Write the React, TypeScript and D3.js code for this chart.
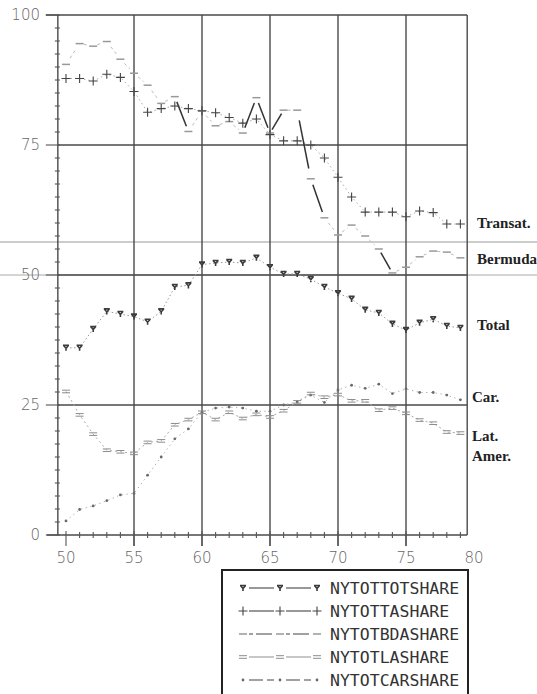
import React, { useEffect, useRef } from 'react';
import * as d3 from 'd3';

// years 1950-1979, share of NY traffic (%)
const years = [50, 51, 52, 53, 54, 55, 56, 57, 58, 59, 60, 61, 62, 63, 64, 65, 66, 67, 68, 69, 70, 71, 72, 73, 74, 75, 76, 77, 78, 79];
const totalShare = [36, 36, 39.6, 43, 42.5, 42, 41, 43, 47.7, 48, 52, 52.3, 52.5, 52.3, 53.3, 51.5, 50.2, 50.2, 49.2, 47.7, 46.5, 45.4, 43.3, 42.7, 40.6, 39.4, 40.8, 41.5, 40.2, 39.8];
const transatShare = [87.8, 87.8, 87.3, 88.6, 88, 85.3, 81.3, 82, 82.5, 82, 81.6, 81.2, 80.3, 79.2, 80, 77, 75.8, 75.8, 75, 72.5, 68.8, 65, 62.1, 62.1, 62.1, 61.2, 62.3, 62, 59.8, 59.8];
const bermudaShare = [90.5, 94.5, 94, 94.9, 91.5, 88.8, 86.5, 83, 84.3, 77.6, 81.5, 78.7, 79.5, 77.3, 84.1, 77.3, 81.7, 81.7, 68.5, 61, 57.7, 59.6, 57.5, 55, 50.4, 51.5, 53.5, 54.6, 54.4, 53.3];
const latAmShare = [27.6, 23.1, 19.4, 16.3, 16, 15.7, 17.8, 18.1, 21.2, 22.2, 23.6, 22.2, 23.6, 22.4, 23.2, 22.7, 23.9, 25.6, 27.2, 26.5, 27, 25.8, 25.8, 24, 24.4, 23.4, 22.1, 21.5, 19.8, 19.6];
const caribShare = [2.7, 4.9, 5.6, 6.6, 7.7, 8, 11.5, 15, 18.5, 20.4, 23.6, 24.4, 24.6, 24.4, 23.8, 23.8, 25, 25.6, 26.9, 25.5, 27.9, 28.8, 28.2, 29, 27.2, 28.1, 27.4, 27.4, 26.9, 26];

const xTicks = [50, 55, 60, 65, 70, 75, 80];
const yTicks = [0, 25, 50, 75, 100];
const legendNames = ['NYTOTTOTSHARE', 'NYTOTTASHARE', 'NYTOTBDASHARE', 'NYTOTLASHARE', 'NYTOTCARSHARE'];
const legendMarks = ['y', 'plus', 'dash', 'eq', 'dot'];
const sideLabels = [
  { text: 'Transat.', v: 60 },
  { text: 'Bermuda', v: 53.2 },
  { text: 'Total', v: 40.4 },
  { text: 'Car.', v: 26.5 },
  { text: 'Lat.', v: 19 },
  { text: 'Amer.', v: 15.3 },
];

const W = 537;
const H = 694;

function marker(g: any, kind: string, cx: number, cy: number) {
  if (kind === 'y') {
    g.append('path')
      .attr('d', `M${cx - 3},${cy - 2.5} L${cx + 3},${cy - 2.5} M${cx - 2.6},${cy - 2.5} L${cx},${cy + 0.5} L${cx + 2.6},${cy - 2.5} M${cx},${cy + 0.5} L${cx},${cy + 3}`)
      .attr('stroke', '#3c3c3c').attr('stroke-width', 1.6).attr('fill', 'none');
  } else if (kind === 'plus') {
    g.append('path')
      .attr('d', `M${cx - 4.5},${cy} L${cx + 4.5},${cy} M${cx},${cy - 4.5} L${cx},${cy + 4.5}`)
      .attr('stroke', '#444').attr('stroke-width', 1.1);
  } else if (kind === 'dash') {
    g.append('path')
      .attr('d', `M${cx - 4},${cy} L${cx + 4},${cy}`)
      .attr('stroke', '#999').attr('stroke-width', 1.5);
  } else if (kind === 'eq') {
    g.append('path')
      .attr('d', `M${cx - 4},${cy - 1.3} L${cx + 4},${cy - 1.3} M${cx - 4},${cy + 1.3} L${cx + 4},${cy + 1.3}`)
      .attr('stroke', '#8c8c8c').attr('stroke-width', 1);
  } else {
    g.append('circle').attr('cx', cx).attr('cy', cy).attr('r', 1.4).attr('fill', '#6a6a6a');
  }
}

const ShareChart = () => {
  const domref = useRef<HTMLDivElement>(null);

  useEffect(() => {
    d3.select(domref.current).selectAll('svg').remove();

    const x = d3.scaleLinear().domain([50, 80]).range([66, 474]);
    const y = d3.scaleLinear().domain([0, 100]).range([535, 15]);
    const left = x(49.4);
    const right = x(79.5);

    const svg = d3.select(domref.current)
      .append('svg')
      .attr('width', W)
      .attr('height', H)
      .style('position', 'absolute')
      .style('left', '0px')
      .style('top', '0px')
      .style('background', '#fff');

    // scan artefacts: long horizontal lines across the page
    svg.append('line').attr('x1', 0).attr('x2', W).attr('y1', 242).attr('y2', 242)
      .attr('stroke', '#999').attr('stroke-width', 1.2);
    svg.append('line').attr('x1', 0).attr('x2', W).attr('y1', y(50)).attr('y2', y(50))
      .attr('stroke', '#aaa').attr('stroke-width', 1.2);

    const grid = svg.append('g').attr('stroke', '#4a4a4a').attr('stroke-width', 1.4);
    xTicks.filter(t => t > 50 && t < 80).forEach(t => {
      grid.append('line').attr('x1', x(t)).attr('x2', x(t)).attr('y1', y(100)).attr('y2', 546);
    });
    yTicks.filter(t => t > 0 && t < 100).forEach(t => {
      grid.append('line').attr('x1', left).attr('x2', right).attr('y1', y(t)).attr('y2', y(t));
    });
    grid.append('line').attr('x1', left - 12).attr('x2', right).attr('y1', y(100)).attr('y2', y(100));
    grid.append('line').attr('x1', left).attr('x2', left).attr('y1', y(100)).attr('y2', y(0));
    grid.append('line').attr('x1', right).attr('x2', right).attr('y1', y(100)).attr('y2', y(0));
    grid.append('line').attr('x1', left - 11).attr('x2', right).attr('y1', y(0)).attr('y2', y(0));

    // axis ticks
    const ticks = svg.append('g').attr('stroke', '#555').attr('stroke-width', 1.1);
    years.forEach(t => {
      const major = t % 5 === 0;
      ticks.append('line').attr('x1', x(t)).attr('x2', x(t))
        .attr('y1', major ? y(0) - 4 : y(0) - 3).attr('y2', major ? 546 : y(0) + 3);
    });
    d3.range(0, 101, 2.5).forEach(v => {
      const major = v % 25 === 0;
      ticks.append('line').attr('x1', major ? left - 12 : left - 3).attr('x2', left + 2)
        .attr('y1', y(v)).attr('y2', y(v));
    });

    svg.append('g')
      .attr('font-family', '"DejaVu Sans", sans-serif')
      .attr('font-size', 15)
      .attr('font-weight', 300)
      .attr('fill', '#666')
      .selectAll('text')
      .data(yTicks)
      .join('text')
      .attr('x', 40)
      .attr('y', d => y(d))
      .attr('dy', '0.36em')
      .attr('text-anchor', 'end')
      .text(d => d);

    svg.append('g')
      .attr('font-family', '"DejaVu Sans", sans-serif')
      .attr('font-size', 15)
      .attr('font-weight', 300)
      .attr('fill', '#666')
      .selectAll('text')
      .data(xTicks)
      .join('text')
      .attr('x', d => x(d))
      .attr('y', 563)
      .attr('text-anchor', 'middle')
      .text(d => d);

    const plot = svg.append('g');
    const line = d3.line<number>().x((d, i) => x(years[i])).y(d => y(d));

    // dotted connectors
    const dotted = [
      { v: totalShare, c: '#999', dash: '1.5,2.5' },
      { v: transatShare, c: '#aaa', dash: '1.5,3' },
      { v: latAmShare, c: '#aaa', dash: '2,3' },
      { v: caribShare, c: '#aaa', dash: '1.3,3.5' },
    ];
    dotted.forEach(s => {
      plot.append('path').attr('d', line(s.v)).attr('fill', 'none')
        .attr('stroke', s.c).attr('stroke-width', 1).attr('stroke-dasharray', s.dash);
    });

    // Bermuda: plotter long dashes show up on steep segments
    for (let i = 0; i < bermudaShare.length - 1; i++) {
      const x0 = x(years[i]), y0 = y(bermudaShare[i]);
      const x1 = x(years[i + 1]), y1 = y(bermudaShare[i + 1]);
      const steep = Math.abs(bermudaShare[i + 1] - bermudaShare[i]) >= 4.2;
      const f = steep ? 0.15 : 0.3;
      plot.append('line')
        .attr('x1', x0 + (x1 - x0) * f).attr('y1', y0 + (y1 - y0) * f)
        .attr('x2', x1 - (x1 - x0) * f).attr('y2', y1 - (y1 - y0) * f)
        .attr('stroke', steep ? '#333' : '#bbb')
        .attr('stroke-width', steep ? 1.5 : 1)
        .attr('stroke-dasharray', steep ? null : '3,3');
    }

    const series = [
      { v: caribShare, m: 'dot' },
      { v: latAmShare, m: 'eq' },
      { v: bermudaShare, m: 'dash' },
      { v: transatShare, m: 'plus' },
      { v: totalShare, m: 'y' },
    ];
    series.forEach(s => {
      s.v.forEach((d, i) => marker(plot, s.m, x(years[i]), y(d)));
    });

    // side annotations
    svg.append('g')
      .attr('font-family', '"Liberation Serif", serif')
      .attr('font-weight', 'bold')
      .attr('font-size', 15)
      .attr('fill', '#222')
      .selectAll('text')
      .data(sideLabels)
      .join('text')
      .attr('x', d => (d.text === 'Transat.' || d.text === 'Bermuda' || d.text === 'Total') ? 477 : 472)
      .attr('y', d => y(d.v))
      .attr('dy', '0.35em')
      .text(d => d.text);

    // legend
    const lg = svg.append('g');
    lg.append('rect').attr('x', 222).attr('y', 570).attr('width', 246).attr('height', 140)
      .attr('fill', '#fff').attr('stroke', '#222').attr('stroke-width', 2);
    legendNames.forEach((name, i) => {
      const cy = 588 + i * 23;
      const xs = [243, 280, 317];
      for (let k = 0; k < 2; k++) {
        lg.append('line').attr('x1', xs[k] + 6).attr('x2', xs[k + 1] - 6).attr('y1', cy).attr('y2', cy)
          .attr('stroke', i === 3 ? '#999' : '#444').attr('stroke-width', 1.1)
          .attr('stroke-dasharray', i === 2 ? '4,3,16,3' : i === 4 ? '14,4' : null);
      }
      xs.forEach(px => marker(lg, legendMarks[i], px, cy));
      lg.append('text')
        .attr('x', 330).attr('y', cy).attr('dy', '0.36em')
        .attr('font-family', '"DejaVu Sans Mono", monospace')
        .attr('font-size', 16.5)
        .attr('fill', '#333')
        .text(name);
    });
  }, []);

  return <div ref={domref}></div>;
};

export default function App() {
  return <ShareChart />;
}
